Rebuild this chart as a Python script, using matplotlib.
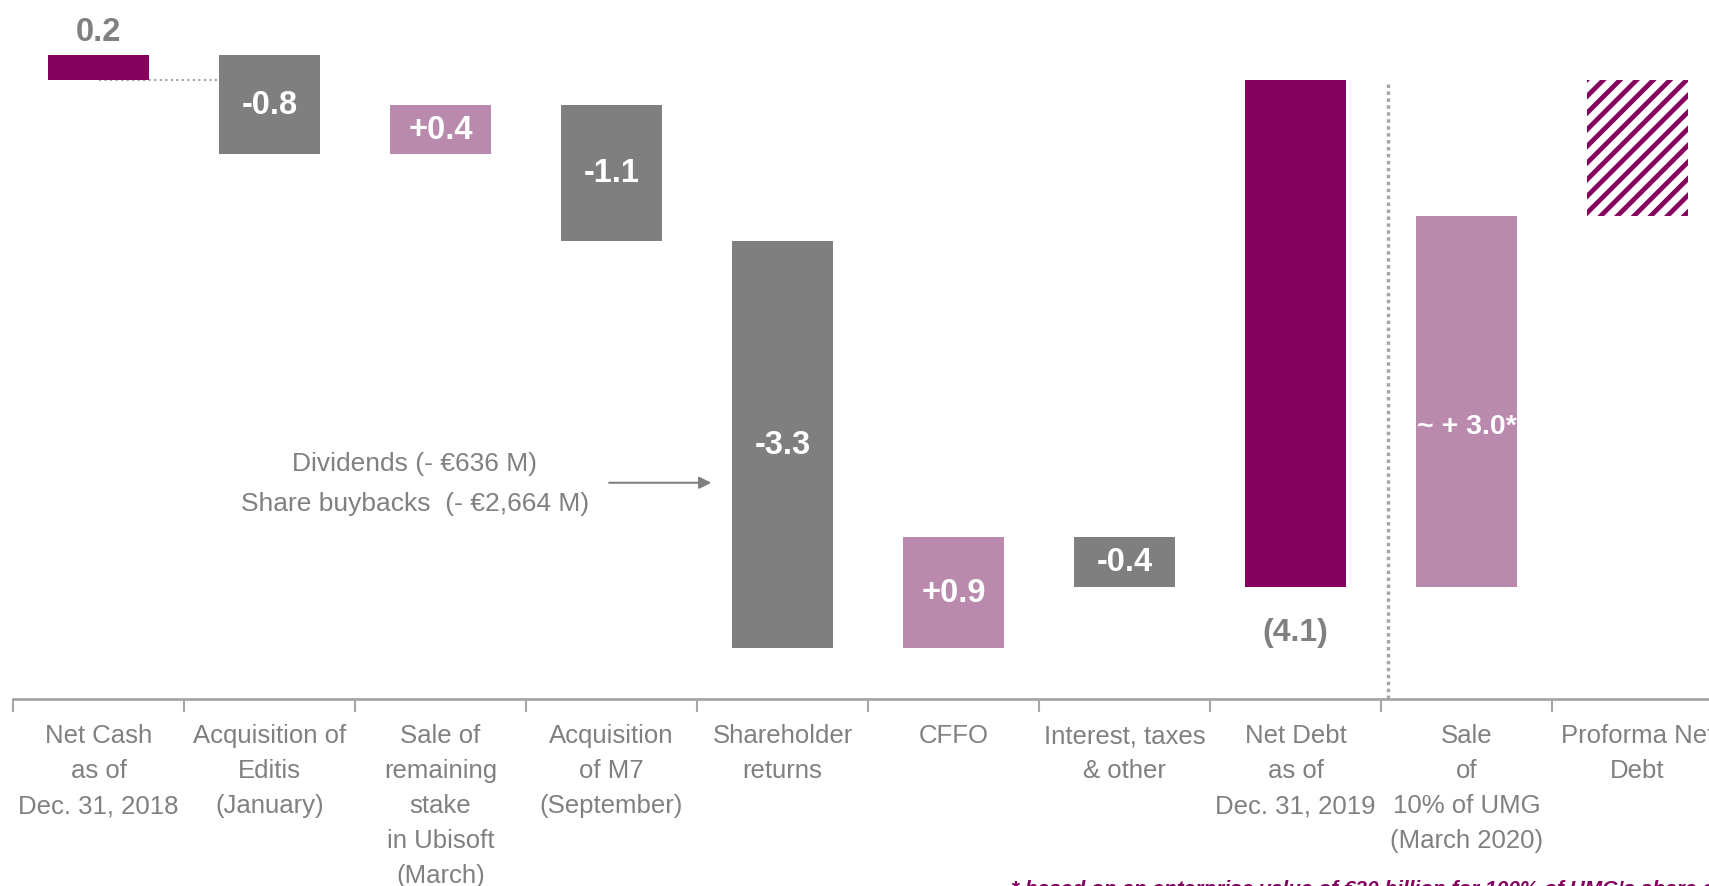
import numpy as np
import matplotlib.pyplot as plt

plt.rcParams['font.family'] = ['Liberation Sans Narrow', 'Liberation Sans', 'DejaVu Sans']
plt.rcParams['hatch.linewidth'] = 3.4

categories = ['Net Cash\nas of\nDec. 31, 2018', 'Acquisition of\nEditis\n(January)',
              'Sale of\nremaining\nstake\nin Ubisoft\n(March)', 'Acquisition\nof M7\n(September)',
              'Shareholder\nreturns', 'CFFO', 'Interest, taxes\n& other',
              'Net Debt\nas of\nDec. 31, 2019', 'Sale\nof\n10% of UMG\n(March 2020)',
              'Proforma Net\nDebt']
start_cash = 0.2
changes = [-0.8, 0.4, -1.1, -3.3, 0.9, -0.4]
change_labels = ['-0.8', '+0.4', '-1.1', '-3.3', '+0.9', '-0.4']
net_debt = -4.1
umg_sale = 3.0
proforma = -1.1

purple = '#85005F'
light = '#B98AAE'
grey = '#7F7F7F'
txt = '#808080'

fig = plt.figure(figsize=(17.09, 8.87), dpi=100)
ax = fig.add_axes([13 / 1709, 187 / 887, 1710 / 1709, 700 / 887])
w = 0.59

# opening net cash
ax.bar(0, start_cash, width=w, color=purple, zorder=2)
ax.text(0, start_cash + 0.07, '0.2', ha='center', va='bottom', color=txt,
        fontsize=23.5, fontweight='bold')
ax.plot([0, 1 - w / 2], [0, 0], ls=':', color='#A0A0A0', lw=1.5, zorder=1)

# movements
running = start_cash
for i, (d, lab) in enumerate(zip(changes, change_labels), start=1):
    col = light if d > 0 else grey
    ax.bar(i, d, bottom=running, width=w, color=col, zorder=2)
    ax.text(i, running + d / 2, lab, ha='center', va='center', color='white',
            fontsize=23.5, fontweight='bold', zorder=3)
    running += d

# closing net debt
ax.bar(7, net_debt, width=w, color=purple, zorder=2)
ax.text(7, net_debt - 0.37, '(4.1)', ha='center', va='center', color=txt,
        fontsize=23, fontweight='bold')

# UMG sale
ax.bar(8, umg_sale, bottom=net_debt, width=w, color=light, zorder=2)
ax.text(8, -2.8, '~ + 3.0*', ha='center', va='center', color='white',
        fontsize=20.5, fontweight='bold', zorder=3)

# proforma
ax.bar(9, proforma, width=w, color='white', edgecolor=purple, linewidth=0,
       hatch='//', zorder=2)

ax.plot([7.54, 7.54], [-0.03, -5.01], ls=(0, (1, 1)), color='#A6A6A6', lw=2.5, zorder=1)

# annotation
ax.text(1.85, -3.1, 'Dividends (- €636 M)', ha='center', va='center', color=txt, fontsize=19)
ax.text(1.85, -3.42, 'Share buybacks  (- €2,664 M)', ha='center', va='center', color=txt, fontsize=19)
ax.annotate('', xy=(3.6, -3.26), xytext=(2.97, -3.26),
            arrowprops=dict(arrowstyle='-|>', color=txt, lw=1.5, mutation_scale=18))

ax.set_xlim(-0.5, 9.5)
ax.set_ylim(-5.01, 0.655)
for s in ['left', 'right', 'top']:
    ax.spines[s].set_visible(False)
ax.spines['bottom'].set_color('#A6A6A6')
ax.spines['bottom'].set_linewidth(2)
ax.set_yticks([])
ax.set_xticks(np.arange(len(categories)))
ax.set_xticklabels(categories, color=txt, fontsize=18.5, linespacing=1.58)
ax.tick_params(axis='x', which='major', length=0, pad=17.5)
ax.set_xticks(np.arange(-0.5, 10, 1), minor=True)
ax.tick_params(axis='x', which='minor', length=9, width=1.5, color='#A6A6A6', direction='out')

fig.text(1011 / 1709, 1 - 880 / 887,
         "* based on an enterprise value of €30 billion for 100% of UMG's share capital",
         ha='left', va='top', color=purple, fontsize=15, fontstyle='italic', fontweight='bold')

fig.savefig('out.png', dpi=100)
